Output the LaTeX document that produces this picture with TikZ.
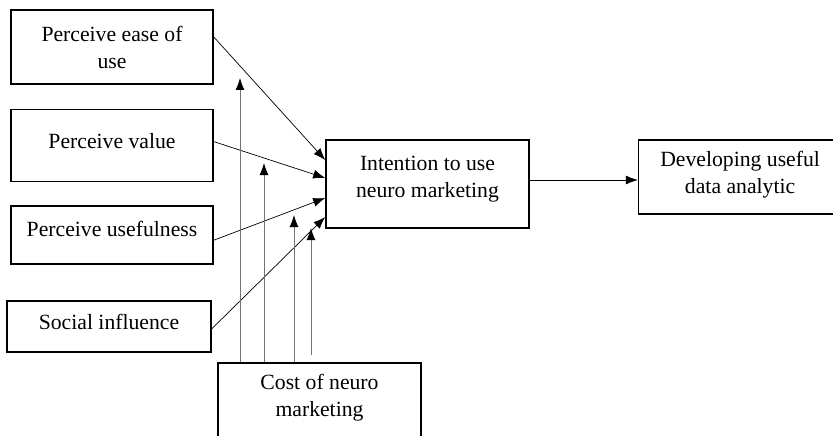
\documentclass[tikz,border=0pt]{standalone}
\usepackage{fontspec}
\setmainfont{Liberation Serif}
\usetikzlibrary{arrows.meta,positioning}

\begin{document}
\begin{tikzpicture}[
  x=1pt, y=-1pt,
  node distance=24pt,
  box/.style={draw, line width=1.6pt, minimum width=202pt, align=center, inner sep=2pt,
    font=\rmfamily\fontsize{21.7}{27}\selectfont},
  lift/.style={text depth=#1},
  link/.style={->, line width=0.7pt},
  costarr/.style={-{Latex[length=12pt,width=9pt,color=black]}, line width=0.9pt, draw=black!55},
  >={Latex[length=12pt,width=9pt]}
]
\useasboundingbox (0,0) rectangle (833,436);

% input factors
\node[box, minimum height=74pt] (ease) at (112,47) {Perceive ease of\\use};
\node[box, lift=10pt, minimum height=72pt, below=24pt of ease] (value) {Perceive value};
\node[box, lift=13pt, minimum height=58pt, below=23pt of value] (useful) {Perceive usefulness};
\node[box, lift=9pt, minimum height=51pt, minimum width=204pt, below=35pt of useful, xshift=-3pt] (social) {Social influence};

% intention and outcome
\node[box, lift=14pt, minimum width=203pt, minimum height=88pt] (intent) at (427.5,184) {Intention to use\\neuro marketing};
\node[box, lift=9pt, minimum width=203pt, minimum height=74pt, right=108pt of intent, yshift=7pt] (develop) {Developing useful\\data analytic};

% cost (runs off the bottom edge)
\node[box, lift=24pt, minimum width=203pt, minimum height=88pt] (cost) at (319.5,407) {Cost of neuro\\marketing};

% tips of the cost arrows
\coordinate (t1) at (240,78);
\coordinate (t2) at (264,163);
\coordinate (t3) at (294,215);
\coordinate (t4) at (311,228);
\coordinate (s4) at (311,355);

% arrows into intention
\draw[link] ([yshift=10pt]ease.east) -- ([yshift=24pt]intent.west);
\draw[link] ([yshift=4pt]value.east) -- ([yshift=6pt]intent.west);
\draw[link] ([yshift=-5pt]useful.east) -- ([yshift=-14pt]intent.west);
\draw[link] ([yshift=-2.5pt]social.east) -- ([yshift=-33pt]intent.west);

% intention to outcome
\draw[link] ([yshift=4pt]intent.east) -- ([yshift=4pt]intent.east -| develop.west);

% cost arrows
\draw[costarr] (cost.north -| t1) -- (t1);
\draw[costarr] (cost.north -| t2) -- (t2);
\draw[costarr] (cost.north -| t3) -- (t3);
\draw[costarr] (s4) -- (t4);
\end{tikzpicture}
\end{document}
